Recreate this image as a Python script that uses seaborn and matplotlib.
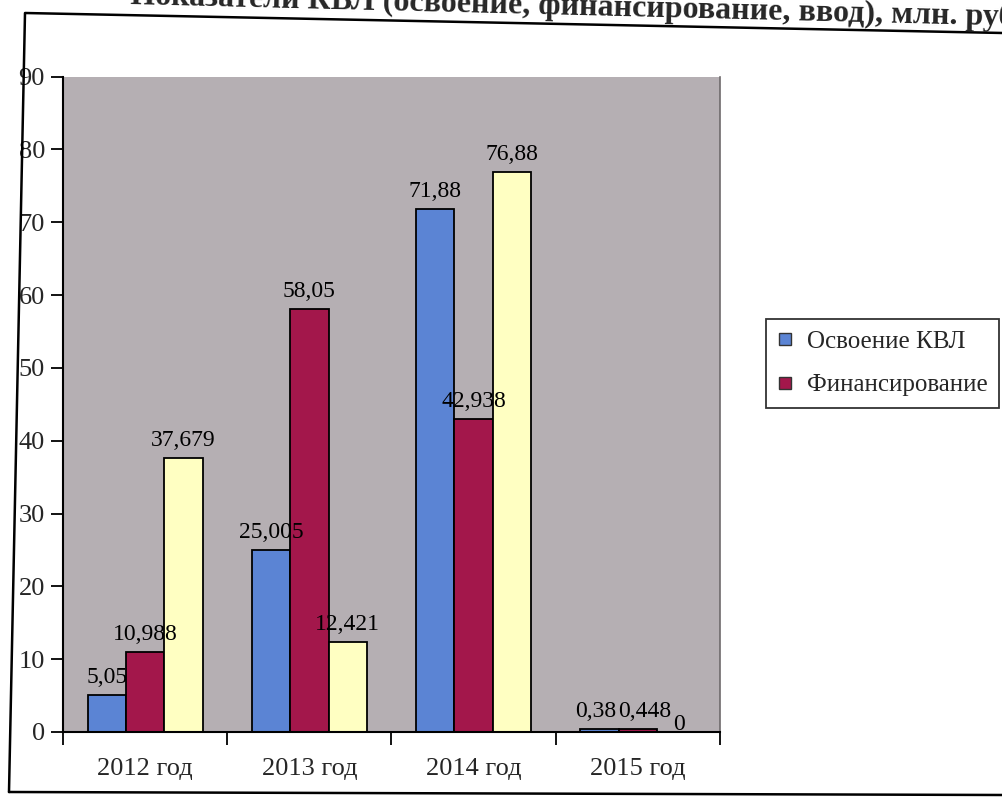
#!/usr/bin/env python3
# -*- coding:utf-8 -*-
"""
Bar chart of KVL figures by year (освоение, финансирование, ввод).
"""

import numpy as np
import pandas as pd
import matplotlib
matplotlib.use("Agg")
import matplotlib.pyplot as plt
from matplotlib.lines import Line2D
import seaborn as sns

# --- data ---
years = ["2012 год", "2013 год", "2014 год", "2015 год"]
series_names = ["Освоение КВЛ", "Финансирование", "Ввод"]
osvoenie = [5.05, 25.005, 71.88, 0.38]
finansirovanie = [10.988, 58.05, 42.938, 0.448]
vvod = [37.679, 12.421, 76.88, 0.0]
y_ticks = [0, 10, 20, 30, 40, 50, 60, 70, 80, 90]

title_text = "Показатели КВЛ (освоение, финансирование, ввод), млн. руб."

colors = ["#5B84D4", "#A3174B", "#FFFFC2"]
plot_bg = "#B5AFB3"


def fmt_value(v):
    return f"{v:g}".replace(".", ",")


def main():
    sns.set_theme(style="white")
    plt.rcParams["font.family"] = ["Liberation Serif", "DejaVu Serif"]

    df = pd.DataFrame({
        "year": years * 3,
        "series": np.repeat(series_names, len(years)),
        "value": osvoenie + finansirovanie + vvod,
    })

    fig = plt.figure(figsize=(10.03, 8.07), dpi=100)
    ax = fig.add_axes([0.0628, 0.0930, 0.655, 0.812])

    sns.barplot(
        data=df, x="year", y="value", hue="series",
        hue_order=series_names, order=years,
        palette=colors, edgecolor="black", linewidth=1.3,
        width=0.70, saturation=1, legend=False, ax=ax,
    )

    ax.set_facecolor(plot_bg)
    ax.set_ylim(0, 90)
    ax.set_xlim(-0.5, len(years) - 0.5)
    ax.set_yticks(y_ticks)
    ax.set_yticklabels([str(t) for t in y_ticks], fontsize=19)
    ax.set_xlabel("")
    ax.set_ylabel("")

    # category labels without marks, boundary marks as minor ticks
    ax.tick_params(axis="x", which="major", length=0, pad=19, labelsize=19)
    ax.set_xticks(np.arange(-0.5, len(years)), minor=True)
    ax.tick_params(axis="x", which="minor", length=9, width=1.3,
                   direction="out", color="black", bottom=True)
    ax.tick_params(axis="y", length=9, width=1.3, direction="out",
                   color="black", left=True, pad=4)

    for side in ["left", "bottom"]:
        ax.spines[side].set_color("black")
        ax.spines[side].set_linewidth(1.5)
    ax.spines["top"].set_visible(False)
    ax.spines["right"].set_color("#6e6a6c")
    ax.spines["right"].set_linewidth(1.2)

    label_sets = []
    for container in ax.containers:
        vals = [bar.get_height() for bar in container]
        anns = ax.bar_label(container, labels=[fmt_value(v) for v in vals],
                            padding=5, fontsize=17, color="black")
        label_sets.append(anns)

    # 2015 labels sit side by side in the reference, nudge them apart
    label_sets[0][3].xyann = (-3, 5)
    label_sets[1][3].xyann = (5, 5)
    label_sets[2][3].xyann = (2, -2)

    # legend: only the first two series are visible in the reference
    handles = [
        Line2D([], [], marker="s", linestyle="", markersize=8,
               markerfacecolor=colors[i], markeredgecolor="#333333")
        for i in range(2)
    ]
    leg = fig.legend(
        handles, series_names[:2], loc="upper left",
        bbox_to_anchor=(766 / 1003, 1 - 319 / 807),
        frameon=True, fontsize=18, handlelength=0.6, handletextpad=0.6,
        labelspacing=0.85, borderpad=0.45, borderaxespad=0,
        fancybox=False,
    )
    leg.get_frame().set_edgecolor("black")
    leg.get_frame().set_linewidth(1.3)

    # title, tilted and clipped like the scanned page
    fig.text(130 / 1003, 1 - 4 / 807, title_text, fontsize=23,
             fontweight="bold", ha="left", va="baseline",
             rotation=-1.4, rotation_mode="anchor")

    # outer chart frame (slightly skewed in the scan)
    W, H = 1003, 807
    frame_x = [9 / W, 25 / W, 1.0]
    frame_y = [1 - 792 / H, 1 - 13 / H, 1 - 33 / H]
    fig.add_artist(Line2D(frame_x, frame_y, transform=fig.transFigure,
                          color="black", linewidth=1.8))
    fig.add_artist(Line2D([9 / W, 1.0], [1 - 792 / H, 1 - 795 / H],
                          transform=fig.transFigure, color="black",
                          linewidth=1.8))

    fig.savefig("out.png", dpi=100, facecolor="white")
    plt.close(fig)


if __name__ == "__main__":
    main()
